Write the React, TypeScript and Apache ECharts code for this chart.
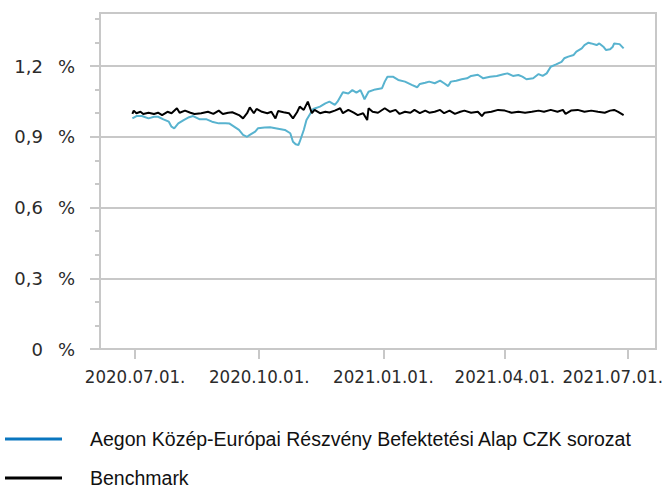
import React, { useEffect, useRef } from "react";
import * as echarts from "echarts";

const fundName = "Aegon Közép-Európai Részvény Befektetési Alap CZK sorozat";
const benchName = "Benchmark";

const xTickDates = ["2020-07-01", "2020-10-01", "2021-01-01", "2021-04-01", "2021-07-01"];
const xMin = "2020-06-05";
const xMax = "2021-07-22";

const yMajorTicks = [0, 0.3, 0.6, 0.9, 1.2];
const yMinorTicks = [0.1, 0.2, 0.4, 0.5, 0.7, 0.8, 1.0, 1.1, 1.3, 1.4];
const yMax = 1.425;

const fund: [string, number][] = [
  ["2020-06-29", 0.978], ["2020-07-02", 0.988], ["2020-07-06", 0.988], ["2020-07-11", 0.978],
  ["2020-07-15", 0.985], ["2020-07-18", 0.985], ["2020-07-22", 0.974], ["2020-07-26", 0.964],
  ["2020-07-28", 0.943], ["2020-07-30", 0.936], ["2020-08-02", 0.957], ["2020-08-06", 0.971],
  ["2020-08-10", 0.983], ["2020-08-13", 0.988], ["2020-08-18", 0.974], ["2020-08-23", 0.974],
  ["2020-08-27", 0.964], ["2020-09-01", 0.957], ["2020-09-06", 0.957], ["2020-09-09", 0.956],
  ["2020-09-16", 0.929], ["2020-09-19", 0.908], ["2020-09-22", 0.9], ["2020-09-24", 0.908],
  ["2020-09-28", 0.922], ["2020-09-30", 0.936], ["2020-10-05", 0.939], ["2020-10-09", 0.94],
  ["2020-10-13", 0.936], ["2020-10-16", 0.933], ["2020-10-20", 0.929], ["2020-10-24", 0.915],
  ["2020-10-26", 0.879], ["2020-10-28", 0.868], ["2020-10-30", 0.865], ["2020-10-31", 0.879],
  ["2020-11-03", 0.929], ["2020-11-05", 0.971], ["2020-11-08", 1.0], ["2020-11-10", 1.018],
  ["2020-11-15", 1.028], ["2020-11-19", 1.042], ["2020-11-22", 1.049], ["2020-11-26", 1.035],
  ["2020-11-28", 1.049], ["2020-12-02", 1.089], ["2020-12-06", 1.084], ["2020-12-09", 1.098],
  ["2020-12-12", 1.087], ["2020-12-15", 1.098], ["2020-12-17", 1.073], ["2020-12-18", 1.059],
  ["2020-12-21", 1.091], ["2020-12-26", 1.101], ["2020-12-31", 1.106], ["2021-01-02", 1.134],
  ["2021-01-04", 1.155], ["2021-01-08", 1.155], ["2021-01-12", 1.141], ["2021-01-17", 1.134],
  ["2021-01-22", 1.12], ["2021-01-26", 1.11], ["2021-01-28", 1.124], ["2021-02-01", 1.129],
  ["2021-02-04", 1.134], ["2021-02-08", 1.127], ["2021-02-12", 1.138], ["2021-02-15", 1.127],
  ["2021-02-18", 1.115], ["2021-02-20", 1.134], ["2021-02-24", 1.138], ["2021-02-28", 1.144],
  ["2021-03-04", 1.148], ["2021-03-07", 1.158], ["2021-03-12", 1.163], ["2021-03-16", 1.148],
  ["2021-03-21", 1.155], ["2021-03-26", 1.158], ["2021-03-31", 1.165], ["2021-04-03", 1.169],
  ["2021-04-07", 1.158], ["2021-04-11", 1.162], ["2021-04-14", 1.155], ["2021-04-17", 1.144],
  ["2021-04-22", 1.148], ["2021-04-26", 1.166], ["2021-04-29", 1.158], ["2021-05-02", 1.169],
  ["2021-05-05", 1.197], ["2021-05-09", 1.207], ["2021-05-13", 1.218], ["2021-05-15", 1.233],
  ["2021-05-18", 1.24], ["2021-05-22", 1.247], ["2021-05-24", 1.261], ["2021-05-28", 1.275],
  ["2021-05-30", 1.289], ["2021-06-02", 1.299], ["2021-06-04", 1.296], ["2021-06-08", 1.289],
  ["2021-06-10", 1.296], ["2021-06-13", 1.282], ["2021-06-15", 1.268], ["2021-06-18", 1.271],
  ["2021-06-20", 1.282], ["2021-06-21", 1.296], ["2021-06-25", 1.293], ["2021-06-28", 1.275],
];

const benchmark: [string, number][] = [
  ["2020-06-29", 0.997], ["2020-06-30", 1.011], ["2020-07-02", 1.0], ["2020-07-05", 1.006],
  ["2020-07-07", 0.997], ["2020-07-11", 1.002], ["2020-07-15", 0.997], ["2020-07-18", 1.002],
  ["2020-07-21", 0.992], ["2020-07-25", 1.006], ["2020-07-28", 1.0], ["2020-08-01", 1.021],
  ["2020-08-03", 1.002], ["2020-08-07", 1.011], ["2020-08-11", 1.002], ["2020-08-14", 0.997],
  ["2020-08-19", 1.0], ["2020-08-24", 1.006], ["2020-08-28", 0.997], ["2020-09-01", 1.011],
  ["2020-09-04", 0.997], ["2020-09-08", 1.002], ["2020-09-11", 1.004], ["2020-09-16", 0.992],
  ["2020-09-19", 0.978], ["2020-09-22", 1.0], ["2020-09-24", 1.025], ["2020-09-27", 1.0],
  ["2020-09-29", 1.018], ["2020-10-03", 1.006], ["2020-10-07", 1.0], ["2020-10-10", 1.006],
  ["2020-10-13", 0.978], ["2020-10-15", 1.009], ["2020-10-19", 1.004], ["2020-10-23", 1.0],
  ["2020-10-26", 0.978], ["2020-10-29", 1.004], ["2020-10-31", 1.028], ["2020-11-03", 1.014],
  ["2020-11-06", 1.049], ["2020-11-09", 1.0], ["2020-11-11", 1.014], ["2020-11-15", 1.0],
  ["2020-11-19", 1.006], ["2020-11-22", 1.003], ["2020-11-26", 1.011], ["2020-11-30", 1.021],
  ["2020-12-02", 1.0], ["2020-12-06", 1.014], ["2020-12-10", 1.002], ["2020-12-13", 0.992],
  ["2020-12-17", 1.0], ["2020-12-20", 0.971], ["2020-12-21", 1.021], ["2020-12-24", 1.006],
  ["2020-12-28", 1.002], ["2021-01-02", 1.021], ["2021-01-06", 1.006], ["2021-01-10", 1.014],
  ["2021-01-13", 0.997], ["2021-01-17", 1.006], ["2021-01-21", 1.002], ["2021-01-24", 1.014],
  ["2021-01-28", 1.0], ["2021-02-01", 1.011], ["2021-02-04", 1.002], ["2021-02-08", 1.006],
  ["2021-02-12", 1.014], ["2021-02-15", 1.0], ["2021-02-19", 1.011], ["2021-02-23", 0.997],
  ["2021-02-27", 1.006], ["2021-03-02", 1.011], ["2021-03-07", 1.002], ["2021-03-12", 1.006],
  ["2021-03-15", 0.988], ["2021-03-17", 1.002], ["2021-03-22", 1.006], ["2021-03-27", 1.014],
  ["2021-04-01", 1.011], ["2021-04-06", 1.002], ["2021-04-11", 1.006], ["2021-04-16", 1.002],
  ["2021-04-21", 1.006], ["2021-04-26", 1.011], ["2021-04-30", 1.006], ["2021-05-05", 1.014],
  ["2021-05-10", 1.006], ["2021-05-14", 1.014], ["2021-05-16", 0.997], ["2021-05-20", 1.011],
  ["2021-05-25", 1.014], ["2021-05-30", 1.006], ["2021-06-04", 1.011], ["2021-06-09", 1.006],
  ["2021-06-14", 1.002], ["2021-06-18", 1.011], ["2021-06-21", 1.014], ["2021-06-24", 1.006],
  ["2021-06-28", 0.992],
];

function localTs(s: string): number {
  const [y, m, d] = s.split("-").map(Number);
  return new Date(y, m - 1, d).getTime();
}

function pad(n: number): string {
  return n < 10 ? "0" + n : String(n);
}

const xAxisFont = '"DejaVu Sans Condensed", "DejaVu Sans", sans-serif';
const yAxisFont = '"DejaVu Sans", sans-serif';
const legendFont = '"Liberation Sans", Arial, sans-serif';
const gray = "#c8c8c8";

export default function App() {
  const ref = useRef<HTMLDivElement>(null);

  useEffect(() => {
    if (!ref.current) return;
    const chart = echarts.init(ref.current, undefined, { renderer: "svg" });
    const xTicks = xTickDates.map(localTs);
    const lastTick = xTicks[xTicks.length - 1];
    const legendText = {
      fontFamily: legendFont,
      fontSize: 19.5,
      color: "#111111",
      padding: [0, 0, 0, 23],
      lineHeight: 16,
    };
    chart.setOption({
      animation: false,
      backgroundColor: "#ffffff",
      grid: {
        left: 100,
        right: 6,
        top: 13,
        bottom: 140,
        show: true,
        borderColor: gray,
        borderWidth: 2,
        containLabel: false,
        outerBoundsMode: "none",
      },
      legend: [
        {
          left: 5,
          top: 429,
          orient: "vertical",
          padding: 0,
          icon: "rect",
          itemWidth: 57,
          itemHeight: 3,
          selectedMode: false,
          data: [{ name: fundName, itemStyle: { color: "#0a76bf" } }],
          textStyle: legendText,
        },
        {
          left: 5,
          top: 468,
          orient: "vertical",
          padding: 0,
          icon: "rect",
          itemWidth: 57,
          itemHeight: 3,
          selectedMode: false,
          data: [{ name: benchName, itemStyle: { color: "#000000" } }],
          textStyle: legendText,
        },
      ],
      xAxis: {
        type: "value",
        min: localTs(xMin),
        max: localTs(xMax),
        axisLine: { show: true, lineStyle: { color: gray, width: 2 } },
        axisTick: {
          show: true,
          customValues: xTicks,
          length: 10,
          lineStyle: { color: gray, width: 2 },
        },
        axisLabel: {
          customValues: xTicks,
          margin: 18,
          fontFamily: xAxisFont,
          fontSize: 18.5,
          color: "#2b2b2b",
          formatter: (v: number) => {
            const d = new Date(v);
            const s = d.getFullYear() + "." + pad(d.getMonth() + 1) + "." + pad(d.getDate()) + ".";
            return v === lastTick ? "{last|" + s + "}" : s;
          },
          rich: {
            last: {
              fontFamily: xAxisFont,
              fontSize: 18.5,
              color: "#2b2b2b",
              padding: [0, 30, 0, 0],
            },
          },
        },
        splitLine: { show: false },
      },
      yAxis: [
        {
          type: "value",
          min: 0,
          max: yMax,
          interval: 0.3,
          axisLine: { show: true, lineStyle: { color: gray, width: 2 } },
          axisTick: {
            show: true,
            customValues: yMajorTicks,
            length: 10,
            lineStyle: { color: gray, width: 2 },
          },
          axisLabel: {
            customValues: yMajorTicks,
            margin: 25,
            fontFamily: yAxisFont,
            fontSize: 18,
            color: "#2b2b2b",
            formatter: (v: number) =>
              (v === 0 ? "0" : v.toFixed(1).replace(".", ",")) + "\u00a0\u00a0\u2009%",
          },
          splitLine: { show: true, lineStyle: { color: gray, width: 2 } },
        },
        {
          type: "value",
          min: 0,
          max: yMax,
          position: "left",
          axisLine: { show: false },
          axisTick: {
            show: true,
            customValues: yMinorTicks,
            length: 5,
            lineStyle: { color: gray, width: 2 },
          },
          axisLabel: { show: false },
          splitLine: { show: false },
        },
      ],
      series: [
        {
          name: fundName,
          type: "line",
          showSymbol: false,
          symbol: "none",
          data: fund.map(([d, v]) => [localTs(d), v]),
          lineStyle: { color: "#58b3cf", width: 2 },
          itemStyle: { color: "#58b3cf" },
          z: 2,
        },
        {
          name: benchName,
          type: "line",
          showSymbol: false,
          symbol: "none",
          data: benchmark.map(([d, v]) => [localTs(d), v]),
          lineStyle: { color: "#000000", width: 2 },
          itemStyle: { color: "#000000" },
          z: 3,
        },
      ],
    });
    return () => chart.dispose();
  }, []);

  return (
    <div
      ref={ref}
      style={{ position: "absolute", left: 0, top: 0, width: 662, height: 489, background: "#fff" }}
    />
  );
}
